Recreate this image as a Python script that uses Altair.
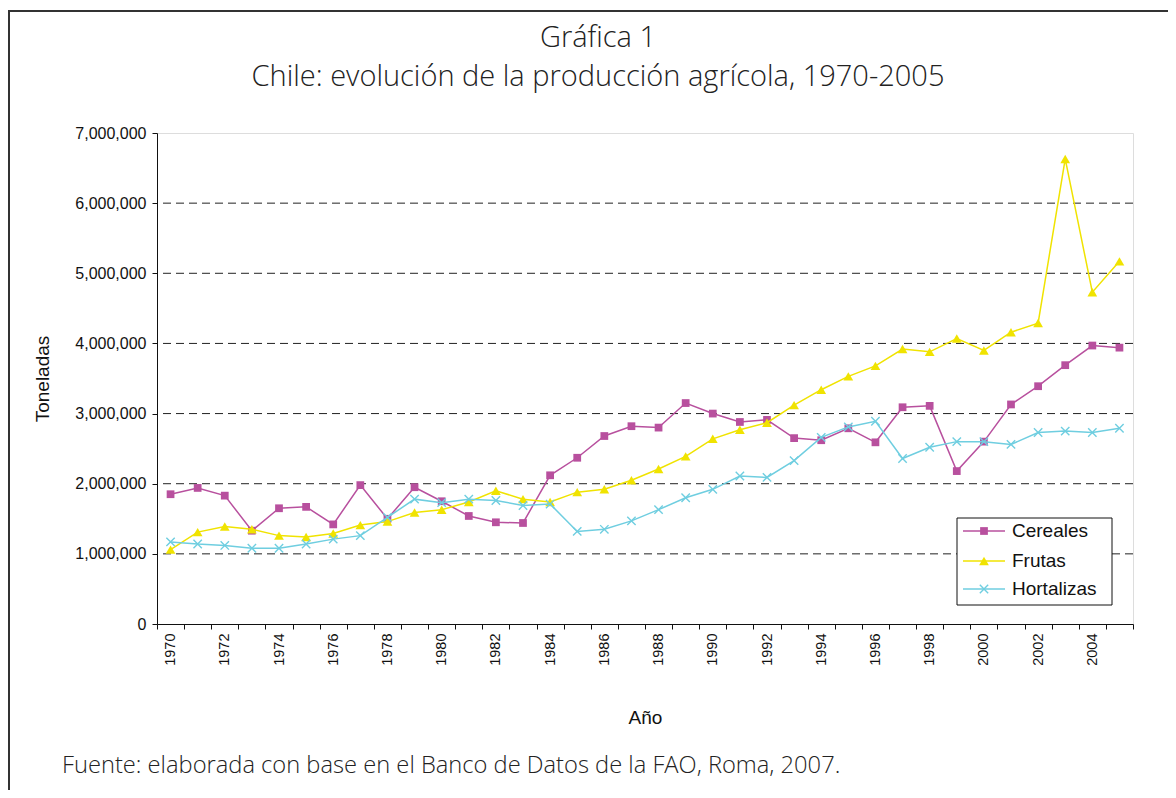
import altair as alt
import pandas as pd

# ---------------- data (millions of tonnes) ----------------
years = list(range(1970, 2006))
cereales = [1.85, 1.94, 1.83, 1.33, 1.65, 1.67, 1.42, 1.98, 1.50, 1.95,
            1.75, 1.54, 1.45, 1.44, 2.12, 2.37, 2.68, 2.82, 2.80, 3.15,
            3.00, 2.88, 2.91, 2.65, 2.62, 2.79, 2.59, 3.09, 3.11, 2.18,
            2.60, 3.13, 3.39, 3.69, 3.97, 3.94]
frutas = [1.06, 1.31, 1.39, 1.35, 1.26, 1.24, 1.29, 1.41, 1.46, 1.59,
          1.63, 1.74, 1.90, 1.78, 1.74, 1.88, 1.92, 2.05, 2.21, 2.39,
          2.64, 2.77, 2.87, 3.12, 3.34, 3.53, 3.68, 3.92, 3.88, 4.07,
          3.90, 4.16, 4.29, 6.63, 4.73, 5.17]
hortalizas = [1.17, 1.14, 1.12, 1.08, 1.08, 1.14, 1.21, 1.26, 1.52, 1.78,
              1.73, 1.78, 1.76, 1.69, 1.71, 1.32, 1.35, 1.47, 1.63, 1.80,
              1.92, 2.11, 2.09, 2.33, 2.66, 2.81, 2.89, 2.36, 2.52, 2.60,
              2.60, 2.56, 2.73, 2.75, 2.73, 2.79]

series_names = ["Cereales", "Frutas", "Hortalizas"]
series_values = [cereales, frutas, hortalizas]
series_colors = ["#B8509E", "#F0E300", "#6FCEE0"]
y_tick_values = [0, 1000000, 2000000, 3000000, 4000000, 5000000, 6000000, 7000000]
grid_values = [1000000, 2000000, 3000000, 4000000, 5000000, 6000000]

title_lines = ["Gráfica 1", "Chile: evolución de la producción agrícola, 1970-2005"]
source_text = "Fuente: elaborada con base en el Banco de Datos de la FAO, Roma, 2007."
x_title = "Año"
y_title = "Toneladas"

rows = []
for name, vals in zip(series_names, series_values):
    for yr, v in zip(years, vals):
        rows.append({"Año": yr, "Toneladas": round(v * 1_000_000), "Serie": name})
df = pd.DataFrame(rows)

# ---------------- layout ----------------
W, H = 976, 491
PAD_L, PAD_T = 149, 125
TOTAL_W, TOTAL_H = 1160, 782

AX_FONT = "Liberation Sans"
TITLE_FONT = "Open Sans"

x_enc = alt.X(
    "Año:O",
    scale=alt.Scale(type="band", paddingInner=0, paddingOuter=0),
    axis=alt.Axis(
        title=x_title, titleFont=AX_FONT, titleFontSize=19, titleFontWeight=400,
        titleColor="#111", titleX=W / 2, titleY=93, titleAlign="center", titleBaseline="middle",
        labelAngle=270, labelAlign="right", labelBaseline="middle", labelFont=AX_FONT,
        labelFontSize=14.5, labelColor="#111", labelPadding=4, labelOverlap=False,
        labelExpr="datum.value % 2 == 0 ? datum.label : ''",
        tickBand="extent", tickSize=5, tickColor="#111", domainColor="#111", grid=False,
        zindex=1,
    ),
)
y_enc = alt.Y(
    "Toneladas:Q",
    scale=alt.Scale(domain=[0, 7000000], nice=False),
    axis=alt.Axis(
        values=y_tick_values, format=",d", title=y_title, titleFont=AX_FONT,
        titleFontSize=19, titleFontWeight=400, titleColor="#111",
        titleX=-115, titleY=H / 2, titleAngle=270, titleAlign="center", titleBaseline="middle",
        labelFont=AX_FONT, labelFontSize=16, labelColor="#111", labelPadding=6,
        tickSize=5, tickColor="#111", domainColor="#111", grid=False, zindex=1,
    ),
)

one = pd.DataFrame({"k": [0]})
layers = []

# outer frame (outline only)
layers.append(
    alt.Chart(one).mark_rect(fillOpacity=0, stroke="#333", strokeWidth=2).encode(
        x=alt.value(-148), x2=alt.value(TOTAL_W), y=alt.value(-122), y2=alt.value(TOTAL_H)
    )
)

# dashed gridlines
layers.append(
    alt.Chart(pd.DataFrame({"Toneladas": grid_values})).mark_rule(
        color="#222", strokeDash=[8, 5], strokeWidth=1
    ).encode(y=y_enc)
)

shapes = ["square", "triangle-up", "M-1,-1L1,1M1,-1L-1,1"]
filled = [True, True, False]
sizes = [60, 95, 70]

for name, color, shp, fl, sz in zip(series_names, series_colors, shapes, filled, sizes):
    sub = df[df["Serie"] == name]
    layers.append(
        alt.Chart(sub).mark_line(color=color, strokeWidth=1.5).encode(x=x_enc, y=y_enc)
    )
    layers.append(
        alt.Chart(sub).mark_point(
            shape=shp, filled=fl, color=color, size=sz, opacity=1,
            strokeWidth=1.4 if not fl else 0.5,
        ).encode(x=x_enc, y=y_enc)
    )

# legend (manual, inside plot)
LX0, LX1, LY0, LY1 = 800, 955, 385, 472
layers.append(
    alt.Chart(one).mark_rect(fill="white", stroke="#111", strokeWidth=1).encode(
        x=alt.value(LX0), x2=alt.value(LX1), y=alt.value(LY0), y2=alt.value(LY1)
    )
)
row_y = [398, 428, 456]
for name, color, shp, fl, sz, ry in zip(series_names, series_colors, shapes, filled, sizes, row_y):
    layers.append(
        alt.Chart(one).mark_rule(color=color, strokeWidth=1.5).encode(
            x=alt.value(806), x2=alt.value(848), y=alt.value(ry)
        )
    )
    layers.append(
        alt.Chart(one).mark_point(
            shape=shp, filled=fl, color=color, size=sz, opacity=1,
            strokeWidth=1.4 if not fl else 0.5,
        ).encode(x=alt.value(827), y=alt.value(ry))
    )
    layers.append(
        alt.Chart(one).mark_text(
            text=name, font=AX_FONT, fontSize=19, color="#111", align="left", baseline="middle"
        ).encode(x=alt.value(855), y=alt.value(ry))
    )

# titles and source
layers.append(
    alt.Chart(one).mark_text(
        text=title_lines[0], font=TITLE_FONT, fontSize=29, fontWeight=300, color="#222",
        align="center", baseline="alphabetic"
    ).encode(x=alt.value(441), y=alt.value(-86))
)
layers.append(
    alt.Chart(one).mark_text(
        text=title_lines[1], font=TITLE_FONT, fontSize=29, fontWeight=300, color="#222",
        align="center", baseline="alphabetic"
    ).encode(x=alt.value(441), y=alt.value(-47))
)
layers.append(
    alt.Chart(one).mark_text(
        text=source_text, font=TITLE_FONT, fontSize=23.7, fontWeight=300, color="#222",
        align="left", baseline="alphabetic"
    ).encode(x=alt.value(-95), y=alt.value(640))
)

chart = (
    alt.layer(*layers)
    .properties(
        width=W, height=H,
        autosize=alt.AutoSizeParams(type="none"),
        padding={"left": PAD_L, "top": PAD_T, "right": TOTAL_W - PAD_L - W, "bottom": TOTAL_H - PAD_T - H},
    )
    .configure_view(stroke="#888", strokeWidth=1)
    .configure(background="white")
)

chart.save("out.html", embed_options={"renderer": "svg", "actions": False})
